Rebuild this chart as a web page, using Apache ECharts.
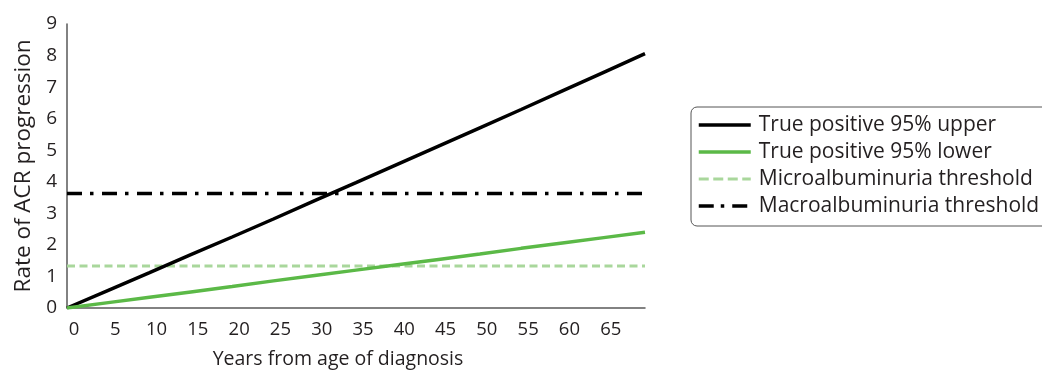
<!DOCTYPE html>
<html>
<head>
<meta charset="utf-8">
<style>
  html, body { margin: 0; padding: 0; background: #fff; }
  #chart { width: 1042px; height: 374px; }
</style>
<script src="https://cdn.jsdelivr.net/npm/echarts@6/dist/echarts.min.js"></script>
</head>
<body>
<div id="chart"></div>
<script>
// Years since diagnosis at which each curve is sampled
const years = [0, 5, 10, 15, 20, 25, 30, 35, 40, 45, 50, 55, 60, 65, 70];
// Rate of ACR progression, upper and lower 95% bound of true positives
const upper95 = [0, 0.56, 1.12, 1.69, 2.25, 2.82, 3.40, 3.97, 4.55, 5.13, 5.71, 6.29, 6.88, 7.47, 8.06];
const lower95 = [0, 0.17, 0.34, 0.51, 0.68, 0.86, 1.03, 1.20, 1.37, 1.54, 1.71, 1.89, 2.06, 2.23, 2.40];
// Albuminuria thresholds (constant over the whole range)
const microThreshold = 1.33;
const macroThreshold = 3.63;
const thresholdSpan = [0, 70];
const seriesNames = [
  'True positive 95% upper',
  'True positive 95% lower',
  'Microalbuminuria threshold',
  'Macroalbuminuria threshold'
];

const pairs = (xs, ys) => xs.map((x, i) => [x, ys[i]]);
const flat = (v) => thresholdSpan.map(x => [x, v]);

const FONT = '"Open Sans", "Noto Sans", sans-serif';
const TXT = '#231f20';
const AXIS = '#595959';

// line looks of the plotted series
const styles = [
  { color: '#000000', width: 3.5, type: 'solid' },
  { color: '#5bb947', width: 3.5, type: 'solid' },
  { color: '#a9d79c', width: 3, type: [8, 4.5] },
  { color: '#000000', width: 3.5, type: [15, 8, 3.5, 8.5] }
];
// legend keys use slightly longer dashes so four fit the 52px key
const keyTypes = ['solid', 'solid', [10, 4.5], [15, 7, 3.5, 8]];

const chart = echarts.init(document.getElementById('chart'), null, { renderer: 'canvas' });
chart.setOption({
  animation: false,
  textStyle: { fontFamily: FONT },
  grid: { left: 67, right: 397, top: 24, bottom: 64.5, containLabel: false },
  xAxis: {
    type: 'value',
    min: 0,
    max: 70,
    interval: 5,
    name: 'Years from age of diagnosis',
    nameLocation: 'middle',
    nameGap: 41,
    nameTextStyle: { fontFamily: FONT, fontSize: 19.5, color: TXT, padding: [0, 36, 0, 0] },
    axisLine: { show: true, onZero: false, lineStyle: { color: AXIS, width: 1.5 } },
    axisTick: { show: false },
    splitLine: { show: false },
    axisLabel: {
      fontFamily: FONT, fontSize: 18.5, color: TXT, margin: 12,
      padding: [0, 0, 0, 14],
      showMaxLabel: false,
      formatter: (v) => (v >= 70 ? '' : String(v))
    }
  },
  yAxis: {
    type: 'value',
    min: 0,
    max: 9,
    interval: 1,
    name: 'Rate of ACR progression',
    nameLocation: 'middle',
    nameGap: 32,
    nameTextStyle: { fontFamily: FONT, fontSize: 22.5, color: TXT },
    axisLine: { show: true, lineStyle: { color: AXIS, width: 1.5 } },
    axisTick: { show: false },
    splitLine: { show: false },
    axisLabel: { fontFamily: FONT, fontSize: 19, color: TXT, margin: 10 }
  },
  legend: {
    orient: 'vertical',
    left: 691,
    top: 107,
    data: seriesNames.map((name, i) => ({
      name,
      itemStyle: { opacity: 0 },
      lineStyle: { color: styles[i].color, width: styles[i].width, type: keyTypes[i] }
    })),
    itemWidth: 52,
    itemHeight: 14,
    itemGap: 5,
    padding: [7, 30, 9, 6],
    borderColor: '#555',
    borderWidth: 1,
    borderRadius: 6,
    selectedMode: false,
    textStyle: { fontFamily: FONT, fontSize: 21, color: TXT, lineHeight: 22, padding: [0, 0, 0, 3] }
  },
  series: [
    {
      name: seriesNames[0], type: 'line', data: pairs(years, upper95),
      symbol: 'none', silent: true,
      lineStyle: styles[0], itemStyle: { color: styles[0].color }, z: 4
    },
    {
      name: seriesNames[1], type: 'line', data: pairs(years, lower95),
      symbol: 'none', silent: true,
      lineStyle: styles[1], itemStyle: { color: styles[1].color }, z: 4
    },
    {
      name: seriesNames[2], type: 'line', data: flat(microThreshold),
      symbol: 'none', silent: true,
      lineStyle: styles[2], itemStyle: { color: styles[2].color }, z: 3
    },
    {
      name: seriesNames[3], type: 'line', data: flat(macroThreshold),
      symbol: 'none', silent: true,
      lineStyle: styles[3], itemStyle: { color: styles[3].color }, z: 3
    }
  ]
});
</script>
</body>
</html>
